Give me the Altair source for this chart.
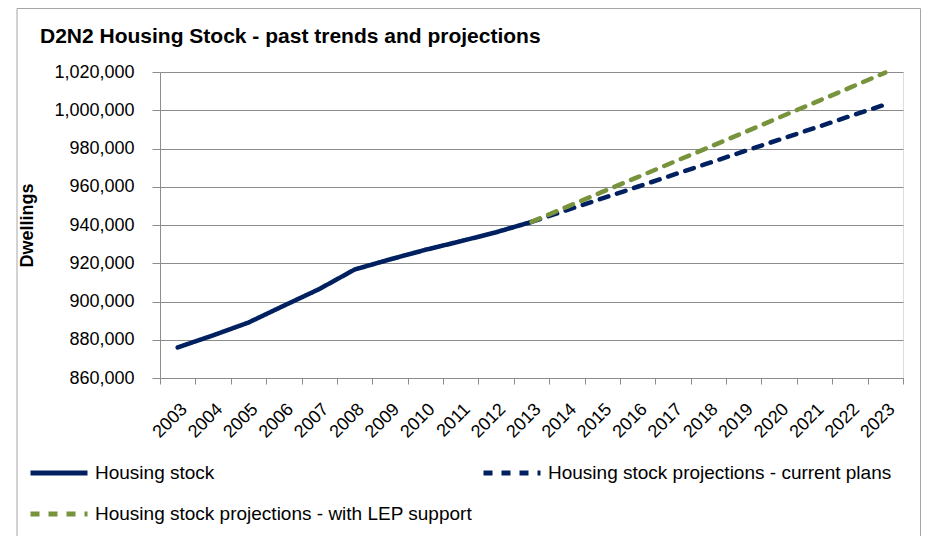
import altair as alt
import pandas as pd

years = [str(y) for y in range(2003, 2024)]
hist_years = years[:11]
hist_values = [876000, 882300, 889000, 897800, 906500, 916700, 922000, 927000, 931500, 936200, 941600]
proj_years = years[10:]
current_plans = [941600, 947800, 953900, 960000, 966200, 972300, 978500, 984600, 990700, 996900, 1003000]
lep_support = [941600, 949500, 957300, 965000, 972800, 980500, 988300, 996200, 1004000, 1011800, 1019700]
series_names = [
    "Housing stock",
    "Housing stock projections - current plans",
    "Housing stock projections - with LEP support",
]
title_text = "D2N2 Housing Stock - past trends and projections"
# legend is filled column by column: this order gives row 1 = stock, current plans; row 2 = LEP
legend_order = [series_names[0], series_names[2], series_names[1]]
series_colors = {series_names[0]: "#002060", series_names[1]: "#002060", series_names[2]: "#77933C"}
series_dashes = {series_names[0]: [1, 0], series_names[1]: [9, 9], series_names[2]: [9, 9]}
y_ticks = [860000, 880000, 900000, 920000, 940000, 960000, 980000, 1000000, 1020000]

rows = []
for y, v in zip(hist_years, hist_values):
    rows.append({"year": y, "value": v, "series": series_names[0]})
for y, v in zip(proj_years, current_plans):
    rows.append({"year": y, "value": v, "series": series_names[1]})
for y, v in zip(proj_years, lep_support):
    rows.append({"year": y, "value": v, "series": series_names[2]})
df = pd.DataFrame(rows)

FONT = "Liberation Sans"
GRID = "#8C8C8C"

color_scale = alt.Scale(domain=legend_order, range=[series_colors[s] for s in legend_order])
dash_scale = alt.Scale(domain=legend_order, range=[series_dashes[s] for s in legend_order])

legend = alt.Legend(
    title=None,
    orient="none",
    legendX=-132,
    legendY=370,
    columns=2,
    columnPadding=0,
    rowPadding=0,
    symbolType="stroke",
    symbolSize=3249,
    symbolStrokeWidth=5,
    labelFont=FONT,
    labelFontSize=19,
    labelColor="black",
    labelOffset=5,
    labelLimit=600,
)

lines = alt.Chart(df).mark_line(strokeWidth=4.5, strokeCap="round", strokeJoin="round").encode(
    x=alt.X(
        "year:O",
        bandPosition=0.5,
        scale=alt.Scale(type="band", domain=years, paddingInner=0, paddingOuter=0),
        axis=alt.Axis(
            title=None,
            labelAngle=-45,
            labelFont=FONT,
            labelFontSize=18,
            labelColor="black",
            labelPadding=16,
            tickBand="extent",
            tickSize=6,
            tickColor=GRID,
            domainColor=GRID,
            grid=False,
        ),
    ),
    y=alt.Y(
        "value:Q",
        scale=alt.Scale(domain=[860000, 1020000], nice=False, zero=False),
        axis=alt.Axis(
            values=y_ticks,
            format=",.0f",
            title="Dwellings",
            titleFont=FONT,
            titleFontSize=18,
            titleFontWeight="bold",
            titleColor="black",
            titlePadding=17,
            labelFont=FONT,
            labelFontSize=18,
            labelColor="black",
            labelPadding=18,
            tickSize=8,
            tickColor=GRID,
            domainColor=GRID,
            gridColor=GRID,
            gridWidth=1,
        ),
    ),
    color=alt.Color("series:N", scale=color_scale, legend=legend),
    strokeDash=alt.StrokeDash("series:N", scale=dash_scale, legend=legend),
    order=alt.Order("year:O"),
)

frame_df = pd.DataFrame({"label": [title_text]})

border = alt.Chart(frame_df).mark_rect(
    fill="transparent", stroke="#A6A6A6", strokeWidth=1
).encode(
    x=alt.value(-143),
    x2=alt.value(760.5),
    y=alt.value(-63.5),
    y2=alt.value(480),
)

title = alt.Chart(frame_df).mark_text(
    align="left",
    baseline="alphabetic",
    font=FONT,
    fontSize=21,
    fontWeight="bold",
    color="black",
).encode(
    text="label:N",
    x=alt.value(-120),
    y=alt.value(-29),
)

chart = alt.layer(border, title, lines).properties(
    width=743,
    height=306,
    autosize=alt.AutoSizeParams(type="none"),
    padding={"left": 152, "top": 64, "right": 18, "bottom": 158},
).configure_view(stroke=None).configure(background="white")

chart.save("out.html", embed_options={"renderer": "svg", "actions": False})
